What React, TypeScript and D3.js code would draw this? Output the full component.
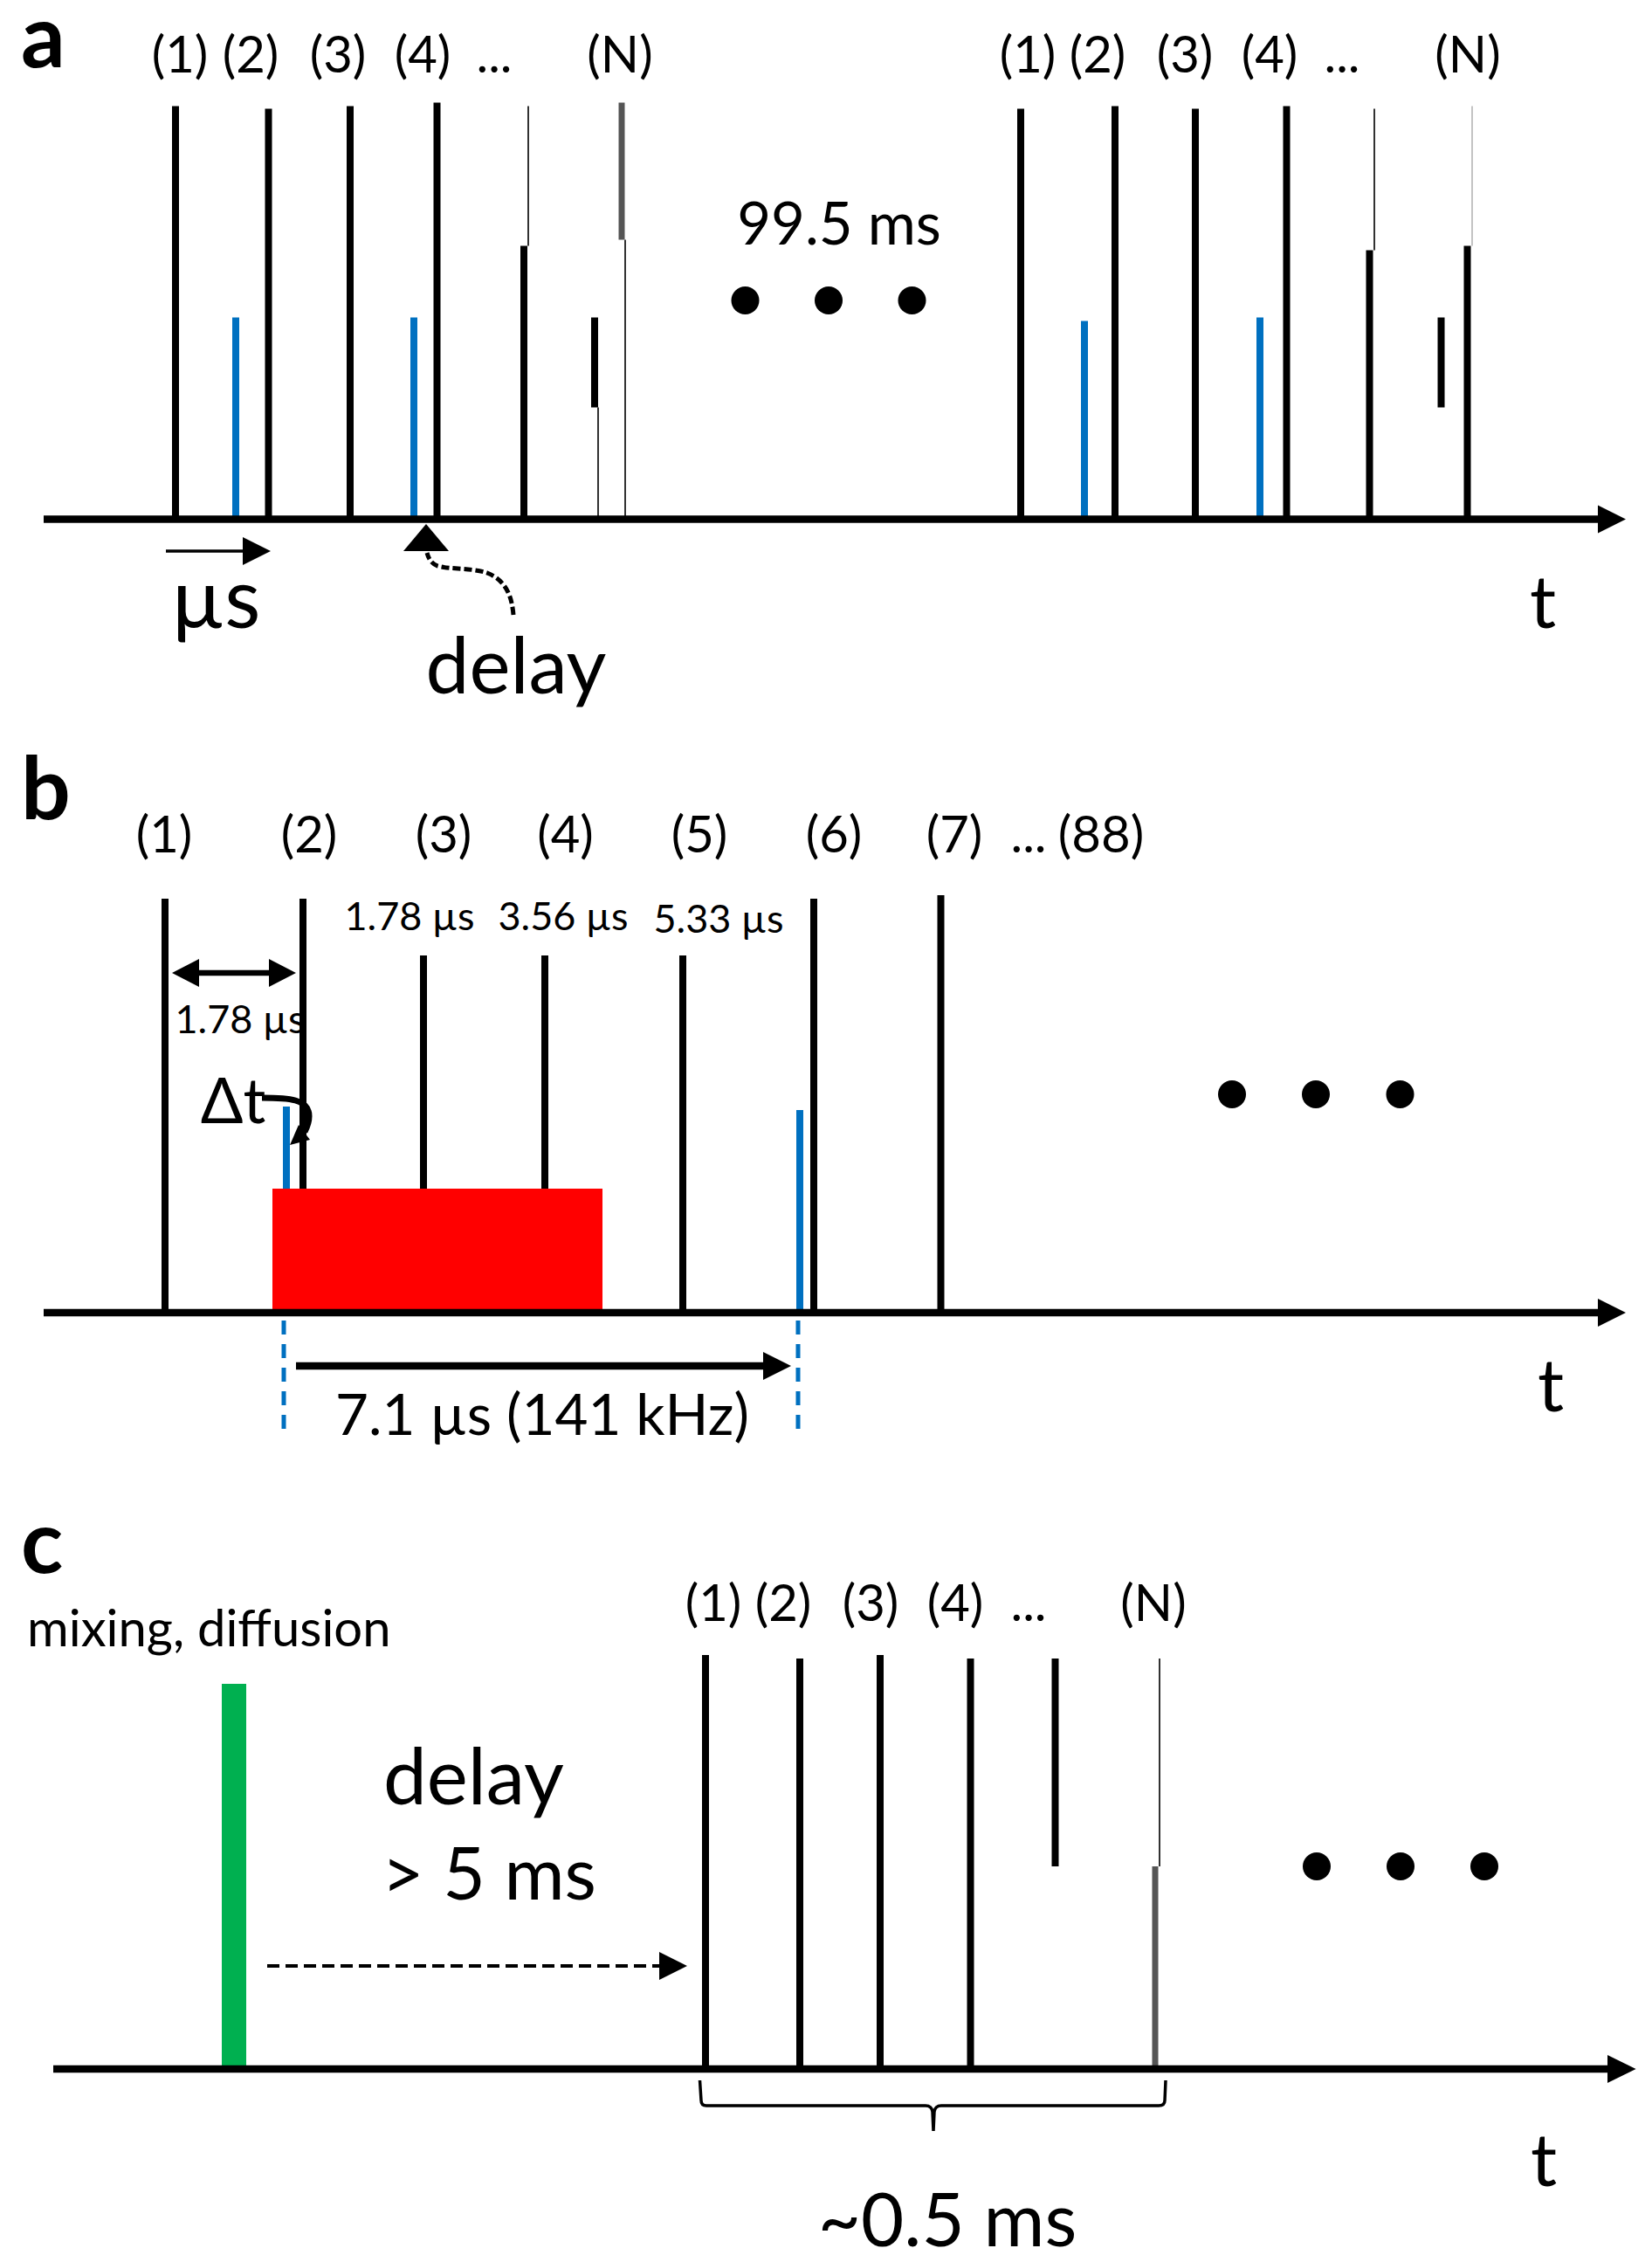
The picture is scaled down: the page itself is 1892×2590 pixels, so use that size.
import { useEffect, useRef } from 'react';
import * as d3 from 'd3';

const WIDTH = 1892;
const HEIGHT = 2590;

// [time, amplitude] or [time, low, high], time and amplitude in the sketch's arbitrary units
const aBlack = [[201, 473], [307.5, 470], [401, 473], [500.5, 477], [600, 313], [1169, 470], [1277, 473], [1369, 470], [1473.5, 473], [1568.5, 308], [1680.5, 313]];
const aFloating = [[681, 128, 231], [1650.5, 128, 231]];
const aThin = [[605, 313, 473], [685, 0, 128], [716, 0, 320], [1574, 308, 470]];
const aFaint = [[1686, 313, 473]];
const aGrey = [[712, 320, 477]];
const aBlue = [[270, 231], [474, 231], [1242, 227], [1443, 231]];
const aLabels = ["(1)", "(2)", "(3)", "(4)", "...", "(N)", "(1)", "(2)", "(3)", "(4)", "...", "(N)"];
const aLabelTimes = [206, 287, 387, 484, 566, 710, 1177, 1257, 1357, 1454, 1537, 1681];
const aDots = [853.5, 949, 1044.5];

const bBlack = [[189, 474], [347, 474], [485, 409], [624, 409], [782, 409], [932, 474], [1077.5, 478]];
const bBlue = [[328, 236], [916, 232]];
const bRed = [312, 690, 142];
const bLabels = ["(1)", "(2)", "(3)", "(4)", "(5)", "(6)", "(7)", "...", "(88)"];
const bLabelTimes = [188, 354, 508, 647.5, 801, 955, 1093, 1178, 1261];
const bDots = [1411, 1507, 1603.5];

const cBlack = [[808, 474], [916, 470], [1008, 474], [1111.5, 470]];
const cFloating = [[1208.5, 232, 470]];
const cThin = [[1328, 232, 470]];
const cGrey = [[1323, 0, 232]];
const cGreen = [[268, 441]];
const cLabels = ["(1)", "(2)", "(3)", "(4)", "...", "(N)"];
const cLabelTimes = [817, 897, 997, 1094, 1178, 1321];
const cDots = [1508, 1604, 1700];

const FONT = "Lato, Carlito, 'Open Sans', sans-serif";
const BLUE = "#0070C0";

export default function App() {
    const ref = useRef<SVGSVGElement>(null);

    useEffect(() => {
        if (!ref.current) return;
        const svg = d3.select(ref.current);
        svg.selectAll("*").remove();

        const x = d3.scaleLinear().domain([0, WIDTH]).range([0, WIDTH]);

        const text = (s: string, px: number, py: number, size: number, anchor = "middle", weight = 400) =>
            svg.append("text")
                .attr("x", px)
                .attr("y", py)
                .attr("text-anchor", anchor)
                .attr("font-family", FONT)
                .attr("font-size", size)
                .attr("font-weight", weight)
                .attr("fill", "#000")
                .text(s);

        // Vertical pulses, each one a rect from low to high amplitude
        const pulses = (y: d3.ScaleLinear<number, number>, rows: number[][], w: number, color: string) => {
            svg.append("g")
                .selectAll("rect")
                .data(rows)
                .join("rect")
                .attr("x", d => x(d[0]) - w / 2)
                .attr("width", w)
                .attr("y", d => y(d.length > 2 ? d[2] : d[1]))
                .attr("height", d => d.length > 2 ? y(d[1]) - y(d[2]) : y(0) - y(d[1]))
                .attr("fill", color);
        };

        const triangle = (tipX: number, baseX: number, py: number, half: number) =>
            svg.append("path")
                .attr("d", `M${tipX},${py}L${baseX},${py - half}L${baseX},${py + half}Z`)
                .attr("fill", "#000");

        const arrow = (from: number, baseX: number, tipX: number, py: number, sw: number, dash?: string) => {
            const line = svg.append("line")
                .attr("x1", from).attr("x2", baseX)
                .attr("y1", py).attr("y2", py)
                .attr("stroke", "#000")
                .attr("stroke-width", sw);
            if (dash) line.attr("stroke-dasharray", dash);
            triangle(tipX, baseX, py, 16);
        };

        const timeAxis = (y: d3.ScaleLinear<number, number>, from: number, baseX: number, tipX: number) => {
            svg.append("line")
                .attr("x1", from).attr("x2", baseX)
                .attr("y1", y(0)).attr("y2", y(0))
                .attr("stroke", "#000")
                .attr("stroke-width", 8.5);
            triangle(tipX, baseX, y(0), 16);
        };

        const dots = (times: number[], py: number) => {
            svg.append("g")
                .selectAll("circle")
                .data(times)
                .join("circle")
                .attr("cx", d => x(d))
                .attr("cy", py)
                .attr("r", 16)
                .attr("fill", "#000");
        };

        const topLabels = (labels: string[], times: number[], py: number) => {
            labels.forEach((l, i) => text(l, x(times[i]), py, 58));
        };

        // Panel a
        const yA = d3.scaleLinear().domain([0, 500]).range([594.5, 94.5]);
        pulses(yA, aBlue, 8, BLUE);
        pulses(yA, aBlack, 8, "#000");
        pulses(yA, aFloating, 8, "#000");
        pulses(yA, aThin, 1.6, "#000");
        pulses(yA, aFaint, 1, "#888");
        pulses(yA, aGrey, 7, "#555");
        timeAxis(yA, 50, 1830, 1862);
        text("a", 24, 77, 100, "start", 700);
        topLabels(aLabels, aLabelTimes, 83);
        text("99.5 ms", 961, 280, 67);
        dots(aDots, 344);
        arrow(190, 278, 310, 631, 3.5);
        text("µs", 247, 719, 95);
        svg.append("path")
            .attr("d", "M462,631L488,600L514,631Z")
            .attr("fill", "#000");
        svg.append("path")
            .attr("d", "M588,704C586,680 578,664 558,656C540,650 515,652 501,648C494,645 491,640 489,633")
            .attr("fill", "none")
            .attr("stroke", "#000")
            .attr("stroke-width", 5)
            .attr("stroke-dasharray", "9,4");
        text("delay", 591, 794, 89);
        text("t", 1767, 719, 84);

        // Panel b
        const yB = d3.scaleLinear().domain([0, 500]).range([1503, 1003]);
        pulses(yB, bBlue, 8, BLUE);
        pulses(yB, bBlack, 8, "#000");
        svg.append("rect")
            .attr("x", x(bRed[0]))
            .attr("width", x(bRed[1]) - x(bRed[0]))
            .attr("y", yB(bRed[2]))
            .attr("height", yB(0) - yB(bRed[2]))
            .attr("fill", "#FF0000");
        timeAxis(yB, 50, 1830, 1862);
        text("b", 24, 938, 100, "start", 700);
        topLabels(bLabels, bLabelTimes, 976);
        text("1.78 µs", 469, 1065, 45);
        text("3.56 µs", 645, 1065, 45);
        text("5.33 µs", 823, 1067.5, 45);
        text("1.78 µs", 275, 1183, 45);
        text("Δt", 267, 1286, 72);
        // double headed arrow
        svg.append("line")
            .attr("x1", 225).attr("x2", 310)
            .attr("y1", 1114).attr("y2", 1114)
            .attr("stroke", "#000")
            .attr("stroke-width", 6.5);
        triangle(197, 228, 1114, 16);
        triangle(339, 308, 1114, 16);
        // curved arrow from the delta label
        svg.append("path")
            .attr("d", "M300,1257C330,1257 354,1258 354,1278C354,1285 352,1290 349,1296")
            .attr("fill", "none")
            .attr("stroke", "#000")
            .attr("stroke-width", 7);
        svg.append("path")
            .attr("d", "M332,1311L342,1288L355,1305Z")
            .attr("fill", "#000");
        [325, 914].forEach(px => {
            svg.append("line")
                .attr("x1", px).attr("x2", px)
                .attr("y1", 1512).attr("y2", 1636)
                .attr("stroke", BLUE)
                .attr("stroke-width", 5)
                .attr("stroke-dasharray", "16,11");
        });
        arrow(339, 874, 906, 1564, 8.5);
        text("7.1 µs (141 kHz)", 621, 1643, 65.5);
        dots(bDots, 1253);
        text("t", 1776, 1616, 84);

        // Panel c
        const yC = d3.scaleLinear().domain([0, 500]).range([2369, 1869]);
        pulses(yC, cGreen, 28, "#00B050");
        pulses(yC, cBlack, 8, "#000");
        pulses(yC, cFloating, 8, "#000");
        pulses(yC, cThin, 1.6, "#000");
        pulses(yC, cGrey, 7, "#555");
        timeAxis(yC, 61, 1841, 1873.6);
        text("c", 24, 1801, 100, "start", 700);
        topLabels(cLabels, cLabelTimes, 1856);
        text("mixing, diffusion", 31, 1885, 58, "start");
        text("delay", 439, 2066, 89, "start");
        text("> 5 ms", 437, 2175, 84, "start");
        arrow(306, 755, 787, 2251, 4, "14,7");
        dots(cDots, 2137);
        svg.append("path")
            .attr("d", "M801.5,2382L803,2405Q803,2411 809,2411L1060,2411Q1067,2411 1068,2418L1069,2440L1070,2418Q1071,2411 1078,2411L1327,2411Q1334,2411 1334,2405L1335,2382")
            .attr("fill", "none")
            .attr("stroke", "#000")
            .attr("stroke-width", 3.5);
        text("~0.5 ms", 1085, 2572, 85);
        text("t", 1768, 2503, 84);
    }, []);

    return (
        <svg
            ref={ref}
            width={WIDTH}
            height={HEIGHT}
            viewBox={`0 0 ${WIDTH} ${HEIGHT}`}
            style={{ position: "absolute", top: 0, left: 0, background: "#fff", display: "block" }}
        />
    );
}
